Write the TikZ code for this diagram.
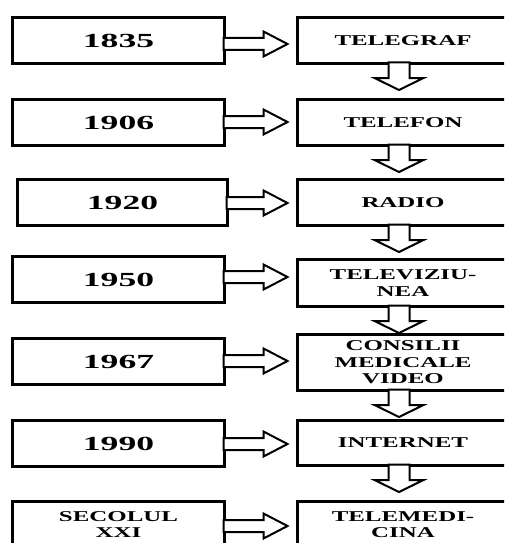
\documentclass[tikz,border=0pt]{standalone}
\usepackage{fontspec}
\setmainfont{Liberation Serif}
\newfontfamily\yearfont[FakeStretch=1.78]{Liberation Serif}
\newfontfamily\techfont[FakeStretch=1.66]{Liberation Serif}
\usetikzlibrary{calc}
\newcommand\harrow[3]{% from node, to node, centre y (pixels from top)
  \draw[blockarrow] let \p1=(#1.east), \p2=(#2.west) in
    (\x1-1pt,-#3pt+6pt) -- (\x2-34pt,-#3pt+6pt) -- (\x2-34pt,-#3pt+12.5pt)
    -- (\x2-10pt,-#3pt) -- (\x2-34pt,-#3pt-12.5pt) -- (\x2-34pt,-#3pt-6pt)
    -- (\x1-1pt,-#3pt-6pt) -- cycle;}
\newcommand\varrow[2]{% from node, to node
  \draw[blockarrow] let \p1=($(#1.south)+(-4pt,0)$), \p2=(#2.north) in
    (\x1-10.5pt,\y1+1pt) -- (\x1-10.5pt,\y1-14.5pt) -- (\x1-24.5pt,\y1-14.5pt)
    -- (\x1,\y1-26.5pt) -- (\x1+24.5pt,\y1-14.5pt) -- (\x1+10.5pt,\y1-14.5pt)
    -- (\x1+10.5pt,\y1+1pt) -- cycle;}
\begin{document}
\begin{tikzpicture}[x=1pt,y=-1pt,
  yearbox/.style={draw, line width=3pt, outer sep=0pt, inner sep=0pt,
    minimum width=212pt, minimum height=46pt, align=center,
    font=\yearfont\bfseries\fontsize{20}{20}\selectfont},
  techbox/.style={draw, line width=3pt, outer sep=0pt, inner sep=0pt,
    minimum width=211pt, minimum height=46pt, align=center,
    font=\techfont\bfseries\fontsize{15}{16.5}\selectfont},
  blockarrow/.style={draw, line width=2pt, fill=white, line join=miter}]
\useasboundingbox (0,0) rectangle (504,543);
\clip (0,0) rectangle (504,543);
\fill[white] (0,0) rectangle (504,543);

% left column
\node[yearbox] (y1) at (118.5,40.5) {1835};
\node[yearbox] (y2) at (118.5,122.5) {1906};
\node[yearbox, minimum width=210pt] (y3) at (122.5,202.5) {1920};
\node[yearbox] (y4) at (118.5,279.5) {1950};
\node[yearbox] (y5) at (118.5,361.5) {1967};
\node[yearbox] (y6) at (118.5,443.5) {1990};
\node[yearbox, font=\techfont\bfseries\fontsize{15}{16.5}\selectfont] (y7) at (118.5,524.5) {SECOLUL\\XXI};

% right column
\node[techbox] (t1) at (403,40.5) {TELEGRAF};
\node[techbox] (t2) at (403,122.5) {TELEFON};
\node[techbox] (t3) at (403,202.5) {RADIO};
\node[techbox, minimum height=47pt] (t4) at (403,283) {TELEVIZIU-\\NEA};
\node[techbox, minimum height=56pt] (t5) at (403,362.5) {CONSILII\\MEDICALE\\VIDEO};
\node[techbox, minimum height=45pt] (t6) at (403,443) {INTERNET};
\node[techbox] (t7) at (403,524.5) {TELEMEDI-\\CINA};

% horizontal arrows
\harrow{y1}{t1}{44}
\harrow{y2}{t2}{122}
\harrow{y3}{t3}{203}
\harrow{y4}{t4}{277}
\harrow{y5}{t5}{361}
\harrow{y6}{t6}{444}
\harrow{y7}{t7}{526}

% vertical arrows
\varrow{t1}{t2}
\varrow{t2}{t3}
\varrow{t3}{t4}
\varrow{t4}{t5}
\varrow{t5}{t6}
\varrow{t6}{t7}
\end{tikzpicture}
\end{document}
